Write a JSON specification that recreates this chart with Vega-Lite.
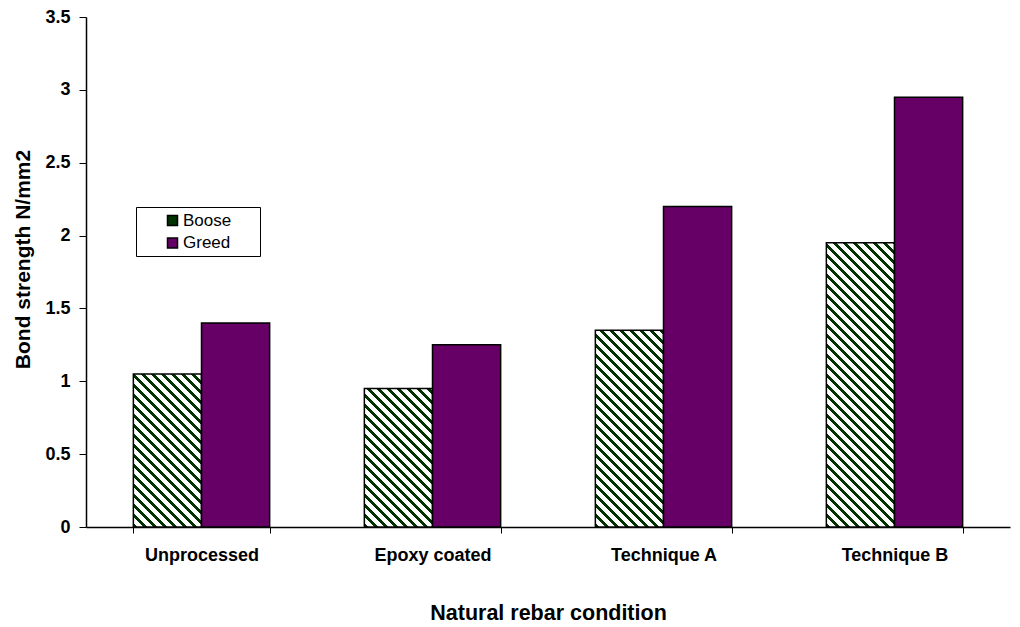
{
  "$schema": "https://vega.github.io/schema/vega-lite/v6.json",
  "autosize": "none",
  "width": 924,
  "height": 510,
  "padding": {"left": 86, "top": 17, "right": 10, "bottom": 100},
  "background": "white",
  "config": {"view": {"stroke": null}, "font": "Liberation Sans"},
  "data": {"values": [
    {"cat": "Unprocessed", "series": "Boose", "value": 1.05},
    {"cat": "Unprocessed", "series": "Greed", "value": 1.4},
    {"cat": "Epoxy coated", "series": "Boose", "value": 0.95},
    {"cat": "Epoxy coated", "series": "Greed", "value": 1.25},
    {"cat": "Technique A", "series": "Boose", "value": 1.35},
    {"cat": "Technique A", "series": "Greed", "value": 2.2},
    {"cat": "Technique B", "series": "Boose", "value": 1.95},
    {"cat": "Technique B", "series": "Greed", "value": 2.95}
  ]},
  "mark": {"type": "bar", "stroke": "black", "strokeWidth": 1.5},
  "encoding": {
    "x": {"field": "cat", "type": "nominal", "sort": null,
      "scale": {"paddingInner": 0.41, "paddingOuter": 0.205},
      "axis": {"title": "Natural rebar condition", "labelAngle": 0, "labelFontWeight": "bold", "labelFontSize": 18, "labelColor": "black", "labelPadding": 13,
        "titleFontSize": 21.5, "titleFontWeight": "bold", "titleColor": "black", "titlePadding": 38,
        "domainColor": "black", "domainWidth": 1.5, "tickColor": "black", "tickBand": "extent", "tickSize": 6, "tickWidth": 1}},
    "xOffset": {"field": "series", "type": "nominal", "scale": {"paddingInner": 0, "paddingOuter": 0}},
    "y": {"field": "value", "type": "quantitative",
      "scale": {"domain": [0, 3.5], "nice": false},
      "axis": {"title": "Bond strength N/mm2", "values": [0, 0.5, 1, 1.5, 2, 2.5, 3, 3.5], "format": "~g", "grid": false,
        "labelFontWeight": "bold", "labelFontSize": 18, "labelColor": "black", "labelPadding": 9,
        "titleFontSize": 21, "titleFontWeight": "bold", "titleColor": "black", "titlePadding": 11, "titleY": 242,
        "domainColor": "black", "domainWidth": 1.5, "tickColor": "black", "tickSize": 7, "tickWidth": 1}},
    "fill": {"field": "series", "type": "nominal",
      "scale": {"domain": ["Boose", "Greed"], "range": ["#003300", "#660066"]},
      "legend": {"title": null, "orient": "none", "legendX": 50, "legendY": 190,
        "strokeColor": "black", "fillColor": "white", "padding": 5, "labelFontSize": 17, "labelColor": "black",
        "labelExpr": "datum.label + '\u00a0\u00a0\u00a0\u00a0\u00a0\u200b'",
        "symbolType": "square", "symbolSize": 100, "symbolStrokeColor": "black", "symbolStrokeWidth": 1.5, "symbolOffset": 23, "rowPadding": 4.5, "labelOffset": 2},
      "condition": [
        {"test": "datum.series === 'Boose' && datum.cat === 'Unprocessed'", "value": {"gradient": "linear", "x1": 0, "y1": 1, "x2": 0.5372, "y2": -0.2061, "stops": [
          {"offset": 0, "color": "#030"}, {"offset": 0.02035, "color": "#030"}, {"offset": 0.02035, "color": "#fff"}, {"offset": 0.04522, "color": "#fff"},
          {"offset": 0.04522, "color": "#030"}, {"offset": 0.06557, "color": "#030"}, {"offset": 0.06557, "color": "#fff"}, {"offset": 0.09044, "color": "#fff"},
          {"offset": 0.09044, "color": "#030"}, {"offset": 0.11079, "color": "#030"}, {"offset": 0.11079, "color": "#fff"}, {"offset": 0.13565, "color": "#fff"},
          {"offset": 0.13565, "color": "#030"}, {"offset": 0.15600, "color": "#030"}, {"offset": 0.15600, "color": "#fff"}, {"offset": 0.18087, "color": "#fff"},
          {"offset": 0.18087, "color": "#030"}, {"offset": 0.20122, "color": "#030"}, {"offset": 0.20122, "color": "#fff"}, {"offset": 0.22609, "color": "#fff"},
          {"offset": 0.22609, "color": "#030"}, {"offset": 0.24644, "color": "#030"}, {"offset": 0.24644, "color": "#fff"}, {"offset": 0.27131, "color": "#fff"},
          {"offset": 0.27131, "color": "#030"}, {"offset": 0.29166, "color": "#030"}, {"offset": 0.29166, "color": "#fff"}, {"offset": 0.31653, "color": "#fff"},
          {"offset": 0.31653, "color": "#030"}, {"offset": 0.33688, "color": "#030"}, {"offset": 0.33688, "color": "#fff"}, {"offset": 0.36175, "color": "#fff"},
          {"offset": 0.36175, "color": "#030"}, {"offset": 0.38210, "color": "#030"}, {"offset": 0.38210, "color": "#fff"}, {"offset": 0.40696, "color": "#fff"},
          {"offset": 0.40696, "color": "#030"}, {"offset": 0.42731, "color": "#030"}, {"offset": 0.42731, "color": "#fff"}, {"offset": 0.45218, "color": "#fff"},
          {"offset": 0.45218, "color": "#030"}, {"offset": 0.47253, "color": "#030"}, {"offset": 0.47253, "color": "#fff"}, {"offset": 0.49740, "color": "#fff"},
          {"offset": 0.49740, "color": "#030"}, {"offset": 0.51775, "color": "#030"}, {"offset": 0.51775, "color": "#fff"}, {"offset": 0.54262, "color": "#fff"},
          {"offset": 0.54262, "color": "#030"}, {"offset": 0.56297, "color": "#030"}, {"offset": 0.56297, "color": "#fff"}, {"offset": 0.58784, "color": "#fff"},
          {"offset": 0.58784, "color": "#030"}, {"offset": 0.60819, "color": "#030"}, {"offset": 0.60819, "color": "#fff"}, {"offset": 0.63306, "color": "#fff"},
          {"offset": 0.63306, "color": "#030"}, {"offset": 0.65341, "color": "#030"}, {"offset": 0.65341, "color": "#fff"}, {"offset": 0.67827, "color": "#fff"},
          {"offset": 0.67827, "color": "#030"}, {"offset": 0.69862, "color": "#030"}, {"offset": 0.69862, "color": "#fff"}, {"offset": 0.72349, "color": "#fff"},
          {"offset": 0.72349, "color": "#030"}, {"offset": 0.74384, "color": "#030"}, {"offset": 0.74384, "color": "#fff"}, {"offset": 0.76871, "color": "#fff"},
          {"offset": 0.76871, "color": "#030"}, {"offset": 0.78906, "color": "#030"}, {"offset": 0.78906, "color": "#fff"}, {"offset": 0.81393, "color": "#fff"},
          {"offset": 0.81393, "color": "#030"}, {"offset": 0.83428, "color": "#030"}, {"offset": 0.83428, "color": "#fff"}, {"offset": 0.85915, "color": "#fff"},
          {"offset": 0.85915, "color": "#030"}, {"offset": 0.87950, "color": "#030"}, {"offset": 0.87950, "color": "#fff"}, {"offset": 0.90437, "color": "#fff"},
          {"offset": 0.90437, "color": "#030"}, {"offset": 0.92472, "color": "#030"}, {"offset": 0.92472, "color": "#fff"}, {"offset": 0.94958, "color": "#fff"},
          {"offset": 0.94958, "color": "#030"}, {"offset": 0.96993, "color": "#030"}, {"offset": 0.96993, "color": "#fff"}, {"offset": 0.99480, "color": "#fff"},
          {"offset": 0.99480, "color": "#030"}, {"offset": 1, "color": "#030"}
        ]}},
        {"test": "datum.series === 'Boose' && datum.cat === 'Epoxy coated'", "value": {"gradient": "linear", "x1": 0, "y1": 1, "x2": 0.5913, "y2": -0.2012, "stops": [
          {"offset": 0, "color": "#030"}, {"offset": 0.02178, "color": "#030"}, {"offset": 0.02178, "color": "#fff"}, {"offset": 0.04841, "color": "#fff"},
          {"offset": 0.04841, "color": "#030"}, {"offset": 0.07019, "color": "#030"}, {"offset": 0.07019, "color": "#fff"}, {"offset": 0.09681, "color": "#fff"},
          {"offset": 0.09681, "color": "#030"}, {"offset": 0.11859, "color": "#030"}, {"offset": 0.11859, "color": "#fff"}, {"offset": 0.14522, "color": "#fff"},
          {"offset": 0.14522, "color": "#030"}, {"offset": 0.16700, "color": "#030"}, {"offset": 0.16700, "color": "#fff"}, {"offset": 0.19363, "color": "#fff"},
          {"offset": 0.19363, "color": "#030"}, {"offset": 0.21541, "color": "#030"}, {"offset": 0.21541, "color": "#fff"}, {"offset": 0.24204, "color": "#fff"},
          {"offset": 0.24204, "color": "#030"}, {"offset": 0.26382, "color": "#030"}, {"offset": 0.26382, "color": "#fff"}, {"offset": 0.29044, "color": "#fff"},
          {"offset": 0.29044, "color": "#030"}, {"offset": 0.31222, "color": "#030"}, {"offset": 0.31222, "color": "#fff"}, {"offset": 0.33885, "color": "#fff"},
          {"offset": 0.33885, "color": "#030"}, {"offset": 0.36063, "color": "#030"}, {"offset": 0.36063, "color": "#fff"}, {"offset": 0.38726, "color": "#fff"},
          {"offset": 0.38726, "color": "#030"}, {"offset": 0.40904, "color": "#030"}, {"offset": 0.40904, "color": "#fff"}, {"offset": 0.43566, "color": "#fff"},
          {"offset": 0.43566, "color": "#030"}, {"offset": 0.45744, "color": "#030"}, {"offset": 0.45744, "color": "#fff"}, {"offset": 0.48407, "color": "#fff"},
          {"offset": 0.48407, "color": "#030"}, {"offset": 0.50585, "color": "#030"}, {"offset": 0.50585, "color": "#fff"}, {"offset": 0.53248, "color": "#fff"},
          {"offset": 0.53248, "color": "#030"}, {"offset": 0.55426, "color": "#030"}, {"offset": 0.55426, "color": "#fff"}, {"offset": 0.58088, "color": "#fff"},
          {"offset": 0.58088, "color": "#030"}, {"offset": 0.60266, "color": "#030"}, {"offset": 0.60266, "color": "#fff"}, {"offset": 0.62929, "color": "#fff"},
          {"offset": 0.62929, "color": "#030"}, {"offset": 0.65107, "color": "#030"}, {"offset": 0.65107, "color": "#fff"}, {"offset": 0.67770, "color": "#fff"},
          {"offset": 0.67770, "color": "#030"}, {"offset": 0.69948, "color": "#030"}, {"offset": 0.69948, "color": "#fff"}, {"offset": 0.72611, "color": "#fff"},
          {"offset": 0.72611, "color": "#030"}, {"offset": 0.74789, "color": "#030"}, {"offset": 0.74789, "color": "#fff"}, {"offset": 0.77451, "color": "#fff"},
          {"offset": 0.77451, "color": "#030"}, {"offset": 0.79629, "color": "#030"}, {"offset": 0.79629, "color": "#fff"}, {"offset": 0.82292, "color": "#fff"},
          {"offset": 0.82292, "color": "#030"}, {"offset": 0.84470, "color": "#030"}, {"offset": 0.84470, "color": "#fff"}, {"offset": 0.87133, "color": "#fff"},
          {"offset": 0.87133, "color": "#030"}, {"offset": 0.89311, "color": "#030"}, {"offset": 0.89311, "color": "#fff"}, {"offset": 0.91973, "color": "#fff"},
          {"offset": 0.91973, "color": "#030"}, {"offset": 0.94151, "color": "#030"}, {"offset": 0.94151, "color": "#fff"}, {"offset": 0.96814, "color": "#fff"},
          {"offset": 0.96814, "color": "#030"}, {"offset": 0.98992, "color": "#030"}, {"offset": 0.98992, "color": "#fff"}, {"offset": 1, "color": "#fff"}
        ]}},
        {"test": "datum.series === 'Boose' && datum.cat === 'Technique A'", "value": {"gradient": "linear", "x1": 0, "y1": 1, "x2": 0.4165, "y2": -0.2022, "stops": [
          {"offset": 0, "color": "#030"}, {"offset": 0.01699, "color": "#030"}, {"offset": 0.01699, "color": "#fff"}, {"offset": 0.03776, "color": "#fff"},
          {"offset": 0.03776, "color": "#030"}, {"offset": 0.05475, "color": "#030"}, {"offset": 0.05475, "color": "#fff"}, {"offset": 0.07551, "color": "#fff"},
          {"offset": 0.07551, "color": "#030"}, {"offset": 0.09250, "color": "#030"}, {"offset": 0.09250, "color": "#fff"}, {"offset": 0.11327, "color": "#fff"},
          {"offset": 0.11327, "color": "#030"}, {"offset": 0.13026, "color": "#030"}, {"offset": 0.13026, "color": "#fff"}, {"offset": 0.15102, "color": "#fff"},
          {"offset": 0.15102, "color": "#030"}, {"offset": 0.16801, "color": "#030"}, {"offset": 0.16801, "color": "#fff"}, {"offset": 0.18878, "color": "#fff"},
          {"offset": 0.18878, "color": "#030"}, {"offset": 0.20577, "color": "#030"}, {"offset": 0.20577, "color": "#fff"}, {"offset": 0.22654, "color": "#fff"},
          {"offset": 0.22654, "color": "#030"}, {"offset": 0.24353, "color": "#030"}, {"offset": 0.24353, "color": "#fff"}, {"offset": 0.26429, "color": "#fff"},
          {"offset": 0.26429, "color": "#030"}, {"offset": 0.28128, "color": "#030"}, {"offset": 0.28128, "color": "#fff"}, {"offset": 0.30205, "color": "#fff"},
          {"offset": 0.30205, "color": "#030"}, {"offset": 0.31904, "color": "#030"}, {"offset": 0.31904, "color": "#fff"}, {"offset": 0.33980, "color": "#fff"},
          {"offset": 0.33980, "color": "#030"}, {"offset": 0.35679, "color": "#030"}, {"offset": 0.35679, "color": "#fff"}, {"offset": 0.37756, "color": "#fff"},
          {"offset": 0.37756, "color": "#030"}, {"offset": 0.39455, "color": "#030"}, {"offset": 0.39455, "color": "#fff"}, {"offset": 0.41532, "color": "#fff"},
          {"offset": 0.41532, "color": "#030"}, {"offset": 0.43231, "color": "#030"}, {"offset": 0.43231, "color": "#fff"}, {"offset": 0.45307, "color": "#fff"},
          {"offset": 0.45307, "color": "#030"}, {"offset": 0.47006, "color": "#030"}, {"offset": 0.47006, "color": "#fff"}, {"offset": 0.49083, "color": "#fff"},
          {"offset": 0.49083, "color": "#030"}, {"offset": 0.50782, "color": "#030"}, {"offset": 0.50782, "color": "#fff"}, {"offset": 0.52858, "color": "#fff"},
          {"offset": 0.52858, "color": "#030"}, {"offset": 0.54557, "color": "#030"}, {"offset": 0.54557, "color": "#fff"}, {"offset": 0.56634, "color": "#fff"},
          {"offset": 0.56634, "color": "#030"}, {"offset": 0.58333, "color": "#030"}, {"offset": 0.58333, "color": "#fff"}, {"offset": 0.60410, "color": "#fff"},
          {"offset": 0.60410, "color": "#030"}, {"offset": 0.62109, "color": "#030"}, {"offset": 0.62109, "color": "#fff"}, {"offset": 0.64185, "color": "#fff"},
          {"offset": 0.64185, "color": "#030"}, {"offset": 0.65884, "color": "#030"}, {"offset": 0.65884, "color": "#fff"}, {"offset": 0.67961, "color": "#fff"},
          {"offset": 0.67961, "color": "#030"}, {"offset": 0.69660, "color": "#030"}, {"offset": 0.69660, "color": "#fff"}, {"offset": 0.71736, "color": "#fff"},
          {"offset": 0.71736, "color": "#030"}, {"offset": 0.73435, "color": "#030"}, {"offset": 0.73435, "color": "#fff"}, {"offset": 0.75512, "color": "#fff"},
          {"offset": 0.75512, "color": "#030"}, {"offset": 0.77211, "color": "#030"}, {"offset": 0.77211, "color": "#fff"}, {"offset": 0.79288, "color": "#fff"},
          {"offset": 0.79288, "color": "#030"}, {"offset": 0.80987, "color": "#030"}, {"offset": 0.80987, "color": "#fff"}, {"offset": 0.83063, "color": "#fff"},
          {"offset": 0.83063, "color": "#030"}, {"offset": 0.84762, "color": "#030"}, {"offset": 0.84762, "color": "#fff"}, {"offset": 0.86839, "color": "#fff"},
          {"offset": 0.86839, "color": "#030"}, {"offset": 0.88538, "color": "#030"}, {"offset": 0.88538, "color": "#fff"}, {"offset": 0.90614, "color": "#fff"},
          {"offset": 0.90614, "color": "#030"}, {"offset": 0.92313, "color": "#030"}, {"offset": 0.92313, "color": "#fff"}, {"offset": 0.94390, "color": "#fff"},
          {"offset": 0.94390, "color": "#030"}, {"offset": 0.96089, "color": "#030"}, {"offset": 0.96089, "color": "#fff"}, {"offset": 0.98166, "color": "#fff"},
          {"offset": 0.98166, "color": "#030"}, {"offset": 0.99865, "color": "#030"}, {"offset": 0.99865, "color": "#fff"}, {"offset": 1, "color": "#fff"}
        ]}},
        {"test": "datum.series === 'Boose' && datum.cat === 'Technique B'", "value": {"gradient": "linear", "x1": 0, "y1": 1, "x2": 0.2812, "y2": -0.1724, "stops": [
          {"offset": 0, "color": "#030"}, {"offset": 0.01277, "color": "#030"}, {"offset": 0.01277, "color": "#fff"}, {"offset": 0.02839, "color": "#fff"},
          {"offset": 0.02839, "color": "#030"}, {"offset": 0.04116, "color": "#030"}, {"offset": 0.04116, "color": "#fff"}, {"offset": 0.05677, "color": "#fff"},
          {"offset": 0.05677, "color": "#030"}, {"offset": 0.06954, "color": "#030"}, {"offset": 0.06954, "color": "#fff"}, {"offset": 0.08516, "color": "#fff"},
          {"offset": 0.08516, "color": "#030"}, {"offset": 0.09793, "color": "#030"}, {"offset": 0.09793, "color": "#fff"}, {"offset": 0.11354, "color": "#fff"},
          {"offset": 0.11354, "color": "#030"}, {"offset": 0.12631, "color": "#030"}, {"offset": 0.12631, "color": "#fff"}, {"offset": 0.14193, "color": "#fff"},
          {"offset": 0.14193, "color": "#030"}, {"offset": 0.15470, "color": "#030"}, {"offset": 0.15470, "color": "#fff"}, {"offset": 0.17032, "color": "#fff"},
          {"offset": 0.17032, "color": "#030"}, {"offset": 0.18309, "color": "#030"}, {"offset": 0.18309, "color": "#fff"}, {"offset": 0.19870, "color": "#fff"},
          {"offset": 0.19870, "color": "#030"}, {"offset": 0.21147, "color": "#030"}, {"offset": 0.21147, "color": "#fff"}, {"offset": 0.22709, "color": "#fff"},
          {"offset": 0.22709, "color": "#030"}, {"offset": 0.23986, "color": "#030"}, {"offset": 0.23986, "color": "#fff"}, {"offset": 0.25547, "color": "#fff"},
          {"offset": 0.25547, "color": "#030"}, {"offset": 0.26824, "color": "#030"}, {"offset": 0.26824, "color": "#fff"}, {"offset": 0.28386, "color": "#fff"},
          {"offset": 0.28386, "color": "#030"}, {"offset": 0.29663, "color": "#030"}, {"offset": 0.29663, "color": "#fff"}, {"offset": 0.31225, "color": "#fff"},
          {"offset": 0.31225, "color": "#030"}, {"offset": 0.32502, "color": "#030"}, {"offset": 0.32502, "color": "#fff"}, {"offset": 0.34063, "color": "#fff"},
          {"offset": 0.34063, "color": "#030"}, {"offset": 0.35340, "color": "#030"}, {"offset": 0.35340, "color": "#fff"}, {"offset": 0.36902, "color": "#fff"},
          {"offset": 0.36902, "color": "#030"}, {"offset": 0.38179, "color": "#030"}, {"offset": 0.38179, "color": "#fff"}, {"offset": 0.39740, "color": "#fff"},
          {"offset": 0.39740, "color": "#030"}, {"offset": 0.41017, "color": "#030"}, {"offset": 0.41017, "color": "#fff"}, {"offset": 0.42579, "color": "#fff"},
          {"offset": 0.42579, "color": "#030"}, {"offset": 0.43856, "color": "#030"}, {"offset": 0.43856, "color": "#fff"}, {"offset": 0.45418, "color": "#fff"},
          {"offset": 0.45418, "color": "#030"}, {"offset": 0.46695, "color": "#030"}, {"offset": 0.46695, "color": "#fff"}, {"offset": 0.48256, "color": "#fff"},
          {"offset": 0.48256, "color": "#030"}, {"offset": 0.49533, "color": "#030"}, {"offset": 0.49533, "color": "#fff"}, {"offset": 0.51095, "color": "#fff"},
          {"offset": 0.51095, "color": "#030"}, {"offset": 0.52372, "color": "#030"}, {"offset": 0.52372, "color": "#fff"}, {"offset": 0.53933, "color": "#fff"},
          {"offset": 0.53933, "color": "#030"}, {"offset": 0.55210, "color": "#030"}, {"offset": 0.55210, "color": "#fff"}, {"offset": 0.56772, "color": "#fff"},
          {"offset": 0.56772, "color": "#030"}, {"offset": 0.58049, "color": "#030"}, {"offset": 0.58049, "color": "#fff"}, {"offset": 0.59611, "color": "#fff"},
          {"offset": 0.59611, "color": "#030"}, {"offset": 0.60888, "color": "#030"}, {"offset": 0.60888, "color": "#fff"}, {"offset": 0.62449, "color": "#fff"},
          {"offset": 0.62449, "color": "#030"}, {"offset": 0.63726, "color": "#030"}, {"offset": 0.63726, "color": "#fff"}, {"offset": 0.65288, "color": "#fff"},
          {"offset": 0.65288, "color": "#030"}, {"offset": 0.66565, "color": "#030"}, {"offset": 0.66565, "color": "#fff"}, {"offset": 0.68126, "color": "#fff"},
          {"offset": 0.68126, "color": "#030"}, {"offset": 0.69403, "color": "#030"}, {"offset": 0.69403, "color": "#fff"}, {"offset": 0.70965, "color": "#fff"},
          {"offset": 0.70965, "color": "#030"}, {"offset": 0.72242, "color": "#030"}, {"offset": 0.72242, "color": "#fff"}, {"offset": 0.73804, "color": "#fff"},
          {"offset": 0.73804, "color": "#030"}, {"offset": 0.75081, "color": "#030"}, {"offset": 0.75081, "color": "#fff"}, {"offset": 0.76642, "color": "#fff"},
          {"offset": 0.76642, "color": "#030"}, {"offset": 0.77919, "color": "#030"}, {"offset": 0.77919, "color": "#fff"}, {"offset": 0.79481, "color": "#fff"},
          {"offset": 0.79481, "color": "#030"}, {"offset": 0.80758, "color": "#030"}, {"offset": 0.80758, "color": "#fff"}, {"offset": 0.82319, "color": "#fff"},
          {"offset": 0.82319, "color": "#030"}, {"offset": 0.83596, "color": "#030"}, {"offset": 0.83596, "color": "#fff"}, {"offset": 0.85158, "color": "#fff"},
          {"offset": 0.85158, "color": "#030"}, {"offset": 0.86435, "color": "#030"}, {"offset": 0.86435, "color": "#fff"}, {"offset": 0.87997, "color": "#fff"},
          {"offset": 0.87997, "color": "#030"}, {"offset": 0.89274, "color": "#030"}, {"offset": 0.89274, "color": "#fff"}, {"offset": 0.90835, "color": "#fff"},
          {"offset": 0.90835, "color": "#030"}, {"offset": 0.92112, "color": "#030"}, {"offset": 0.92112, "color": "#fff"}, {"offset": 0.93674, "color": "#fff"},
          {"offset": 0.93674, "color": "#030"}, {"offset": 0.94951, "color": "#030"}, {"offset": 0.94951, "color": "#fff"}, {"offset": 0.96512, "color": "#fff"},
          {"offset": 0.96512, "color": "#030"}, {"offset": 0.97789, "color": "#030"}, {"offset": 0.97789, "color": "#fff"}, {"offset": 0.99351, "color": "#fff"},
          {"offset": 0.99351, "color": "#030"}, {"offset": 1, "color": "#030"}
        ]}}
      ]
    }
  }
}
